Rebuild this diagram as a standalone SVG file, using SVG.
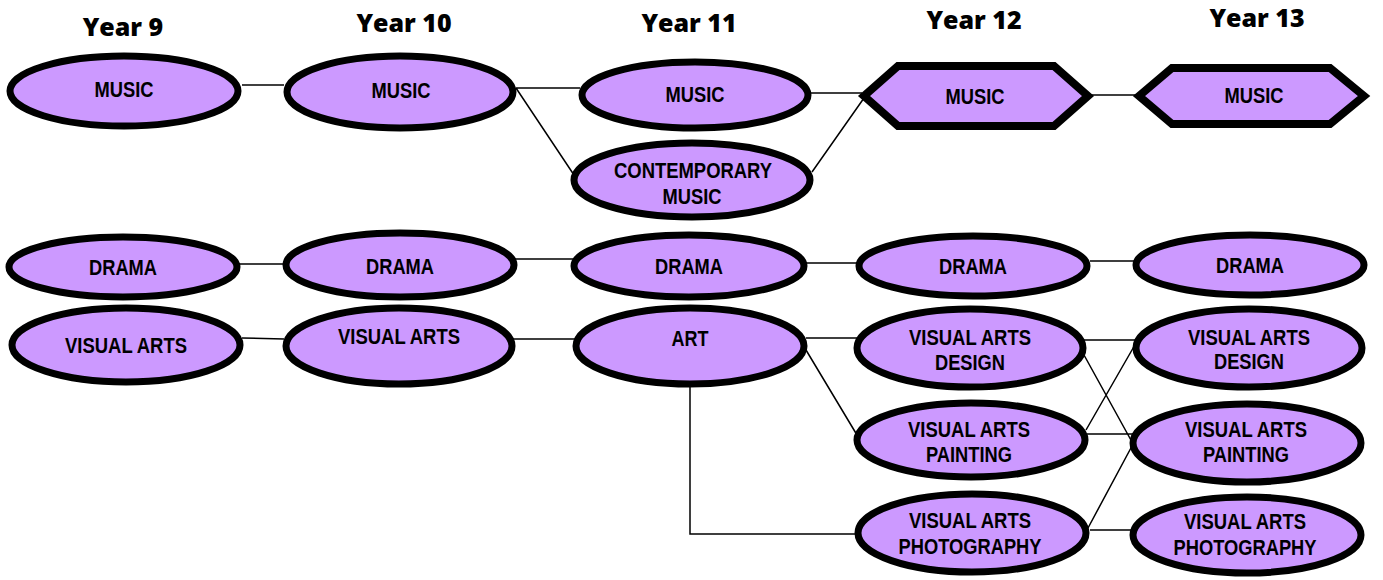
<svg xmlns="http://www.w3.org/2000/svg" width="1383" height="580" viewBox="0 0 1383 580">
<style>
.n{fill:#cc99ff;stroke:#000;stroke-width:7}
.h{fill:#cc99ff;stroke:#000;stroke-width:8;stroke-linejoin:miter}
.t{font-family:"Liberation Sans",Arial,sans-serif;font-weight:bold;font-size:22.5px;fill:#000;text-anchor:middle}
.y{font-family:"Open Sans",Lato,sans-serif;font-weight:800;font-size:25px;fill:#000;text-anchor:middle}
.c{stroke:#000;stroke-width:1.5;fill:none}
</style>
<rect width="1383" height="580" fill="#fff"/>
<g id="headers">
<text class="y" x="123" y="36">Year 9</text>
<text class="y" x="404" y="32">Year 10</text>
<text class="y" x="689" y="32">Year 11</text>
<text class="y" x="974" y="29">Year 12</text>
<text class="y" x="1257" y="27">Year 13</text>
</g>
<g id="connectors">
<path class="c" d="M242 85H284"/>
<path class="c" d="M516 88H580M516 88L574 175"/>
<path class="c" d="M810 93H862M812 172L864 98"/>
<path class="c" d="M1088 95H1137"/>
<path class="c" d="M238 264H285M514 259H574M804 263H858M1090 261H1135"/>
<path class="c" d="M242 338L284 339M513 339H576"/>
<path class="c" d="M806 338H857M806 350L857 435M690 386V534H857"/>
<path class="c" d="M1084 340H1136M1084 355L1132 442M1086 430L1136 343M1087 434H1133M1088 528L1132 446M1090 530H1134"/>
</g>
<g id="y9-music"><ellipse class="n" cx="124" cy="91" rx="114" ry="35"/><text class="t" x="124" y="97" textLength="59" lengthAdjust="spacingAndGlyphs">MUSIC</text></g>
<g id="y10-music"><ellipse class="n" cx="400" cy="92" rx="113" ry="36"/><text class="t" x="401" y="98" textLength="59" lengthAdjust="spacingAndGlyphs">MUSIC</text></g>
<g id="y11-music"><ellipse class="n" cx="695" cy="95" rx="113" ry="33"/><text class="t" x="695" y="102" textLength="59" lengthAdjust="spacingAndGlyphs">MUSIC</text></g>
<g id="y11-contemporary"><ellipse class="n" cx="692" cy="180" rx="118" ry="37"/><text class="t" x="693" y="178" textLength="158" lengthAdjust="spacingAndGlyphs">CONTEMPORARY</text><text class="t" x="692" y="204" textLength="59" lengthAdjust="spacingAndGlyphs">MUSIC</text></g>
<g id="y12-music"><polygon class="h" points="864,96 898,66 1054,66 1088,96 1054,126 898,126"/><text class="t" x="975" y="104" textLength="59" lengthAdjust="spacingAndGlyphs">MUSIC</text></g>
<g id="y13-music"><polygon class="h" points="1139,96 1172,68 1330,68 1364,96 1330,124 1172,124"/><text class="t" x="1254" y="103" textLength="59" lengthAdjust="spacingAndGlyphs">MUSIC</text></g>
<g id="y9-drama"><ellipse class="n" cx="123" cy="267" rx="114" ry="30"/><text class="t" x="123" y="275" textLength="68" lengthAdjust="spacingAndGlyphs">DRAMA</text></g>
<g id="y10-drama"><ellipse class="n" cx="400" cy="265" rx="114" ry="32"/><text class="t" x="400" y="274" textLength="68" lengthAdjust="spacingAndGlyphs">DRAMA</text></g>
<g id="y11-drama"><ellipse class="n" cx="689" cy="266" rx="115" ry="31"/><text class="t" x="689" y="274" textLength="68" lengthAdjust="spacingAndGlyphs">DRAMA</text></g>
<g id="y12-drama"><ellipse class="n" cx="973" cy="266" rx="114" ry="30"/><text class="t" x="973" y="274" textLength="68" lengthAdjust="spacingAndGlyphs">DRAMA</text></g>
<g id="y13-drama"><ellipse class="n" cx="1250" cy="265" rx="114" ry="30"/><text class="t" x="1250" y="273" textLength="68" lengthAdjust="spacingAndGlyphs">DRAMA</text></g>
<g id="y9-visual-arts"><ellipse class="n" cx="126" cy="345" rx="114" ry="37"/><text class="t" x="126" y="353" textLength="122" lengthAdjust="spacingAndGlyphs">VISUAL ARTS</text></g>
<g id="y10-visual-arts"><ellipse class="n" cx="399" cy="346" rx="113" ry="38"/><text class="t" x="399" y="344" textLength="122" lengthAdjust="spacingAndGlyphs">VISUAL ARTS</text></g>
<g id="y11-art"><ellipse class="n" cx="690" cy="346" rx="114" ry="38"/><text class="t" x="690" y="346" textLength="37" lengthAdjust="spacingAndGlyphs">ART</text></g>
<g id="y12-va-design"><ellipse class="n" cx="970" cy="348" rx="113" ry="39"/><text class="t" x="970" y="345" textLength="122" lengthAdjust="spacingAndGlyphs">VISUAL ARTS</text><text class="t" x="970" y="370" textLength="70" lengthAdjust="spacingAndGlyphs">DESIGN</text></g>
<g id="y12-va-painting"><ellipse class="n" cx="971" cy="440" rx="114" ry="37"/><text class="t" x="969" y="437" textLength="122" lengthAdjust="spacingAndGlyphs">VISUAL ARTS</text><text class="t" x="969" y="462" textLength="86" lengthAdjust="spacingAndGlyphs">PAINTING</text></g>
<g id="y12-va-photography"><ellipse class="n" cx="972" cy="533" rx="114" ry="39"/><text class="t" x="970" y="528" textLength="122" lengthAdjust="spacingAndGlyphs">VISUAL ARTS</text><text class="t" x="970" y="554" textLength="143" lengthAdjust="spacingAndGlyphs">PHOTOGRAPHY</text></g>
<g id="y13-va-design"><ellipse class="n" cx="1249" cy="348" rx="113" ry="39"/><text class="t" x="1249" y="345" textLength="122" lengthAdjust="spacingAndGlyphs">VISUAL ARTS</text><text class="t" x="1249" y="369" textLength="70" lengthAdjust="spacingAndGlyphs">DESIGN</text></g>
<g id="y13-va-painting"><ellipse class="n" cx="1247" cy="443" rx="114" ry="39"/><text class="t" x="1246" y="437" textLength="122" lengthAdjust="spacingAndGlyphs">VISUAL ARTS</text><text class="t" x="1246" y="462" textLength="86" lengthAdjust="spacingAndGlyphs">PAINTING</text></g>
<g id="y13-va-photography"><ellipse class="n" cx="1247" cy="535" rx="114" ry="38"/><text class="t" x="1245" y="529" textLength="122" lengthAdjust="spacingAndGlyphs">VISUAL ARTS</text><text class="t" x="1245" y="555" textLength="143" lengthAdjust="spacingAndGlyphs">PHOTOGRAPHY</text></g>
</svg>
